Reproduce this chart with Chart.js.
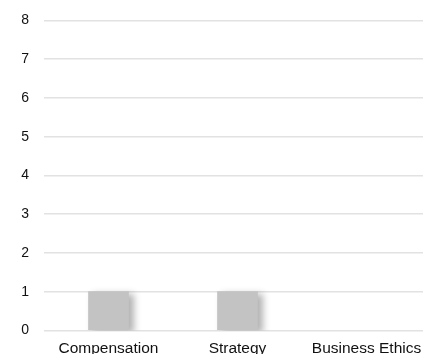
<!DOCTYPE html>
<html>
<head>
<meta charset="utf-8">
<script src="https://cdn.jsdelivr.net/npm/chart.js@4/dist/chart.umd.min.js"></script>
<style>
  html, body { margin: 0; padding: 0; background: #ffffff; overflow: hidden; }
  #wrap { width: 423px; height: 354px; overflow: hidden; }
  canvas { display: block; }
</style>
</head>
<body>
<div id="wrap"><canvas id="chart" width="440" height="359"></canvas></div>
<script>
const categories = ['Compensation', 'Strategy', 'Business Ethics'];
const counts = [1, 1, 0];
const yTicks = [0, 1, 2, 3, 4, 5, 6, 7, 8];

// soft drop shadow behind the bars
const barShadow = {
  id: 'barShadow',
  beforeDatasetsDraw(chart) {
    const ctx = chart.ctx;
    ctx.save();
    ctx.shadowColor = 'rgba(0,0,0,0.3)';
    ctx.shadowBlur = 7;
    ctx.shadowOffsetX = 5;
    ctx.shadowOffsetY = 3;
  },
  afterDatasetsDraw(chart) {
    chart.ctx.restore();
  }
};

new Chart(document.getElementById('chart'), {
  type: 'bar',
  data: {
    labels: categories,
    datasets: [{
      data: counts,
      // an empty bar gets no fill, so it casts no shadow either
      backgroundColor: c => (c.raw ? '#c3c3c3' : 'rgba(0,0,0,0)'),
      borderWidth: 0,
      barThickness: 40
    }]
  },
  options: {
    responsive: false,
    animation: false,
    layout: { padding: { left: 6.2, right: 9, top: 20.5, bottom: 0 } },
    plugins: {
      legend: { display: false },
      tooltip: { enabled: false }
    },
    scales: {
      x: {
        grid: { display: false, drawTicks: true, tickLength: 8 },
        border: { display: false },
        afterFit(axis) {
          axis.paddingLeft = 0;
          axis.paddingRight = 0;
        },
        ticks: {
          color: '#111111',
          padding: 1,
          font: { family: 'Liberation Sans, Arial, sans-serif', size: 15.5 }
        }
      },
      y: {
        min: 0,
        max: 8,
        afterBuildTicks(axis) {
          axis.ticks = yTicks.map(v => ({ value: v }));
        },
        afterFit(axis) {
          axis.paddingTop = 0;
          axis.paddingBottom = 0;
        },
        grid: { color: '#e2e2e2', lineWidth: 1.5, drawTicks: false },
        border: { display: false },
        ticks: {
          color: '#111111',
          padding: 15,
          font: { family: 'Liberation Sans, Arial, sans-serif', size: 14 }
        }
      }
    }
  },
  plugins: [barShadow]
});
</script>
</body>
</html>
